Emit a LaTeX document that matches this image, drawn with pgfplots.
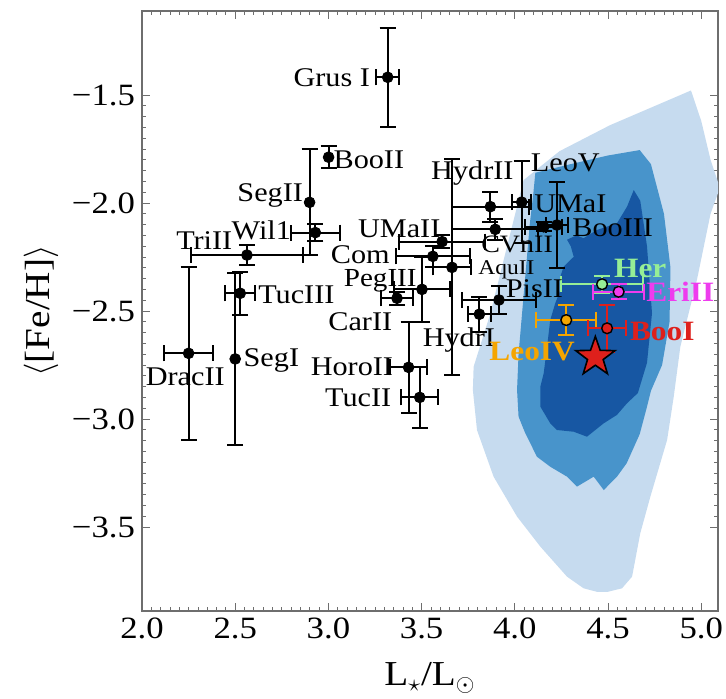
\documentclass[border=0pt]{standalone}
\usepackage{pgfplots}
\pgfplotsset{compat=1.18}
\usepackage{fontspec}
\setmainfont{Liberation Serif}[FakeStretch=1.12]
\definecolor{clight}{RGB}{198,219,239}
\definecolor{cmid}{RGB}{72,148,203}
\definecolor{cdark}{RGB}{23,87,163}
\definecolor{cher}{RGB}{150,238,150}
\definecolor{ceri}{RGB}{238,60,238}
\definecolor{cleo}{RGB}{245,165,0}
\definecolor{cboo}{RGB}{222,32,28}
\definecolor{cframe}{RGB}{110,110,110}
\tikzset{
  lab/.style={font=\fontsize{13.5}{15}\selectfont, inner sep=0pt},
  clab/.style={font=\fontsize{14}{16}\selectfont\bfseries, inner sep=0pt},
}
\pgfplotsset{
  ebar/.style={only marks, mark=*, mark size=2.7pt,
    error bars/error mark=|,
    error bars/error bar style={line width=1pt, #1},
    error bars/error mark options={line width=1pt, mark size=4pt, #1}},
}
\pgfdeclareplotmark{fstar}{%
  \pgfpathmoveto{\pgfpointpolar{90}{\pgfplotmarksize}}%
  \pgfpathlineto{\pgfpointpolar{126}{0.40\pgfplotmarksize}}%
  \pgfpathlineto{\pgfpointpolar{162}{\pgfplotmarksize}}%
  \pgfpathlineto{\pgfpointpolar{198}{0.40\pgfplotmarksize}}%
  \pgfpathlineto{\pgfpointpolar{234}{\pgfplotmarksize}}%
  \pgfpathlineto{\pgfpointpolar{270}{0.40\pgfplotmarksize}}%
  \pgfpathlineto{\pgfpointpolar{306}{\pgfplotmarksize}}%
  \pgfpathlineto{\pgfpointpolar{342}{0.40\pgfplotmarksize}}%
  \pgfpathlineto{\pgfpointpolar{18}{\pgfplotmarksize}}%
  \pgfpathlineto{\pgfpointpolar{54}{0.40\pgfplotmarksize}}%
  \pgfpathclose
  \pgfusepathqfillstroke}
\begin{document}
\begin{tikzpicture}
\useasboundingbox (-71pt,-44pt) rectangle (292pt,305.5pt);
\begin{axis}[
  at={(0,0)}, anchor=south west,
  scale only axis, width=288pt, height=300pt,
  xmin=2, xmax=5.09, ymin=-3.889, ymax=-1.111,
  xtick={2,2.5,3,3.5,4,4.5,5}, xticklabels={2.0,2.5,3.0,3.5,4.0,4.5,5.0},
  ytick={-3.5,-3,-2.5,-2,-1.5}, yticklabels={−3.5,−3.0,−2.5,−2.0,−1.5},
  minor x tick num=9, minor y tick num=9,
  tick align=inside, major tick length=4pt, minor tick length=2pt,
  axis line style={cframe, line width=0.6pt},
  every tick/.style={cframe, line width=0.4pt},
  ticklabel style={font=\fontsize{15.5}{18}\selectfont},
  xlabel={L$_\star$/L$_\odot$}, ylabel={$\langle$[Fe/H]$\rangle$},
  label style={font=\fontsize{17.5}{20}\selectfont},
  xlabel style={yshift=-5pt},
  clip=true,
]
% contours
\addplot[fill=clight, draw=none] coordinates {
(4.945,-1.479) (5.00,-1.62) (5.05,-1.80) (5.10,-1.93) (5.05,-2.05)
(4.977,-2.356) (4.888,-2.665) (4.852,-2.90) (4.817,-3.097) (4.727,-3.36)
(4.673,-3.529) (4.629,-3.73) (4.575,-3.784) (4.50,-3.80) (4.44,-3.80)
(4.369,-3.784) (4.28,-3.73) (4.137,-3.591) (4.012,-3.452) (3.886,-3.267)
(3.797,-3.051) (3.775,-2.866) (3.779,-2.758) (3.869,-2.511) (3.958,-2.202)
(4.047,-1.894) (4.24,-1.76) (4.51,-1.64) (4.945,-1.479)};
\addplot[fill=cmid, draw=none] coordinates {
(4.11,-1.86) (4.30,-1.82) (4.50,-1.78) (4.67,-1.755) (4.73,-1.82)
(4.80,-2.05) (4.835,-2.30) (4.83,-2.55) (4.79,-2.75) (4.73,-2.87)
(4.71,-2.94) (4.67,-3.07) (4.60,-3.205) (4.548,-3.267) (4.477,-3.329)
(4.423,-3.267) (4.334,-3.313) (4.28,-3.267) (4.19,-3.221) (4.119,-3.175)
(4.056,-3.066) (4.02,-2.989) (4.012,-2.866) (4.02,-2.70) (4.04,-2.50)
(4.06,-2.30) (4.08,-2.10) (4.10,-1.95) (4.11,-1.86)};
\addplot[fill=cdark, draw=none] coordinates {
(4.638,-1.94) (4.673,-1.99) (4.709,-2.20) (4.736,-2.51) (4.709,-2.74)
(4.66,-2.88) (4.602,-2.927) (4.548,-2.981) (4.477,-3.02) (4.387,-3.082)
(4.316,-3.059) (4.226,-3.051) (4.19,-3.02) (4.137,-2.943) (4.137,-2.85)
(4.155,-2.788) (4.173,-2.665) (4.19,-2.542) (4.217,-2.464) (4.244,-2.403)
(4.244,-2.341) (4.262,-2.295) (4.316,-2.249) (4.30,-2.20) (4.28,-2.17)
(4.33,-2.15) (4.369,-2.163) (4.44,-2.125) (4.548,-2.094) (4.602,-2.017)
(4.638,-1.94)};
% black points with x and y errors
\addplot[ebar=black, black, error bars/.cd, x dir=both, x explicit, y dir=both, y explicit]
  table[x=x, y=y, x error=ex, y error=ey] {
x y ex ey
3.318 -1.418 0.062 0.23
2.93 -2.137 0.13 0.04
2.563 -2.241 0.30 0.045
2.527 -2.418 0.08 0.10
2.25 -2.696 0.13 0.40
3.61 -2.179 0.23 0.03
3.56 -2.247 0.20 0.05
3.502 -2.40 0.15 0.15
3.368 -2.441 0.087 0.03
3.43 -2.761 0.10 0.21
3.49 -2.90 0.10 0.14
3.663 -2.298 0.10 0.50
3.869 -2.017 0.205 0.07
4.037 -1.996 0.05 0.19
3.895 -2.122 0.23 0.05
4.155 -2.11 0.10 0.02
4.226 -2.102 0.06 0.20
3.915 -2.449 0.20 0.065
3.81 -2.515 0.06 0.08
};
% black points with only y errors
\addplot[ebar=black, black, error bars/.cd, y dir=both, y explicit]
  table[x=x, y=y, y error=ey] {
x y ey
3.001 -1.788 0.05
2.899 -1.997 0.245
2.50 -2.722 0.40
};
% coloured points
\addplot[ebar=cher, mark options={fill=cher, draw=black, line width=0.7pt},
  error bars/.cd, x dir=both, x explicit, y dir=both, y explicit]
  table[x=x, y=y, x error=ex, y error=ey] {
x y ex ey
4.468 -2.376 0.22 0.04
};
\addplot[ebar=ceri, mark options={fill=ceri, draw=black, line width=0.7pt},
  error bars/.cd, x dir=both, x explicit, y dir=both, y explicit]
  table[x=x, y=y, x error=ex, y error=ey] {
x y ex ey
4.557 -2.411 0.135 0.035
};
\addplot[ebar=cleo, mark options={fill=cleo, draw=black, line width=0.7pt},
  error bars/.cd, x dir=both, x explicit, y dir=both, y explicit]
  table[x=x, y=y, x error=ex, y error=ey] {
x y ex ey
4.276 -2.542 0.16 0.07
};
\addplot[ebar=cboo, mark options={fill=cboo, draw=black, line width=0.7pt},
  error bars/.cd, x dir=both, x explicit, y dir=both, y explicit]
  table[x=x, y=y, x error=ex, y error=ey] {
x y ex ey
4.495 -2.58 0.10 0.11
};
\addplot[only marks, mark=fstar, mark size=10.3pt, mark options={fill=cboo, draw=black, line width=0.8pt}]
  coordinates {(4.432,-2.713)};
% labels
\node[lab] at (axis cs:3.018,-1.418) {Grus I};
\node[lab] at (axis cs:3.217,-1.801) {BooII};
\node[lab] at (axis cs:2.688,-1.963) {SegII};
\node[lab] at (axis cs:2.64,-2.128) {Wil1};
\node[lab] at (axis cs:2.334,-2.175) {TriII};
\node[lab] at (axis cs:2.828,-2.426) {TucIII};
\node[lab] at (axis cs:2.232,-2.804) {DracII};
\node[lab] at (axis cs:2.694,-2.727) {SegI};
\node[lab] at (axis cs:3.38,-2.118) {UMaII};
\node[lab] at (axis cs:3.171,-2.238) {Com};
\node[lab, font=\fontsize{13}{14}\selectfont] at (axis cs:3.278,-2.36) {PegIII};
\node[lab] at (axis cs:3.171,-2.55) {CarII};
\node[lab] at (axis cs:3.126,-2.758) {HoroII};
\node[lab] at (axis cs:3.16,-2.903) {TucII};
\node[lab] at (axis cs:3.772,-1.862) {HydrII};
\node[lab] at (axis cs:4.271,-1.816) {LeoV};
\node[lab] at (axis cs:4.298,-2.005) {UMaI};
\node[lab] at (axis cs:4.525,-2.115) {BooIII};
\node[lab, font=\fontsize{12.5}{14}\selectfont] at (axis cs:4.012,-2.192) {CVnII};
\node[lab, font=\fontsize{10.5}{12}\selectfont] at (axis cs:3.955,-2.31) {AquII};
\node[lab] at (axis cs:4.105,-2.398) {PisII};
\node[lab] at (axis cs:3.70,-2.634) {HydrI};
\node[clab, text=cher] at (axis cs:4.673,-2.301) {Her};
\node[clab, text=ceri] at (axis cs:4.888,-2.411) {EriII};
\node[clab, text=cboo] at (axis cs:4.791,-2.596) {BooI};
\node[clab, text=cleo] at (axis cs:4.093,-2.688) {LeoIV};
\end{axis}
\end{tikzpicture}
\end{document}
